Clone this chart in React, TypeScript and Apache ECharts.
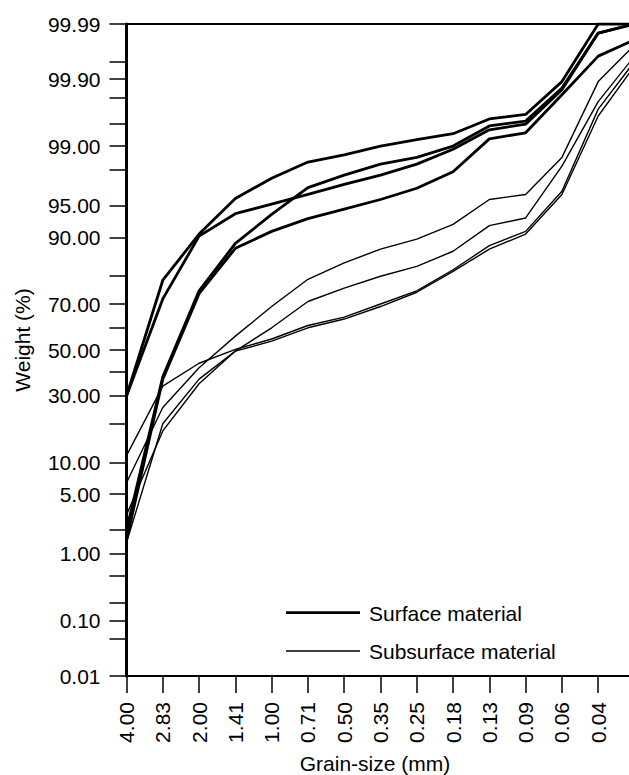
import React, { useEffect, useRef } from 'react';
import * as echarts from 'echarts';

// ---- data ----
const grainSizes = ['4.00', '2.83', '2.00', '1.41', '1.00', '0.71', '0.50', '0.35', '0.25', '0.18', '0.13', '0.09', '0.06', '0.04', ''];

// Surface material (cumulative weight %, thick lines)
const surfaceA = [30, 78.7, 90.7, 95.8, 97.5, 98.4, 98.7, 99.0, 99.18, 99.32, 99.58, 99.64, 99.89, 99.99, 99.99];
const surfaceB = [30, 72, 90.3, 94.0, 95.2, 96.2, 97.06, 97.7, 98.3, 98.9, 99.4, 99.5, 99.85, 99.985, 99.99];
const surfaceC = [2.0, 38, 75, 88.8, 93.9, 96.8, 97.7, 98.3, 98.6, 99.0, 99.47, 99.55, 99.86, 99.985, 99.99];
const surfaceD = [1.5, 37, 74, 87.7, 91.2, 93.3, 94.6, 95.7, 96.75, 97.9, 99.2, 99.34, 99.82, 99.96, 99.98];

// Subsurface material (thin lines)
const subsurfaceA = [11.4, 34, 44, 50.3, 55, 61, 64.6, 70, 75, 82, 88.3, 91.2, 96.5, 99.7, 99.95];
const subsurfaceB = [6.5, 25.6, 42, 56.3, 69, 79, 84, 87.5, 89.7, 92.4, 95.7, 96.2, 98.6, 99.89, 99.975];
const subsurfaceC = [3.0, 17.8, 35, 49.5, 60, 71, 76, 80, 83, 87, 92.2, 93.4, 98.2, 99.77, 99.96];
const subsurfaceD = [1.4, 20, 37, 49.5, 54, 60, 63.8, 69, 74.5, 81.5, 87.5, 90.7, 96.2, 99.62, 99.94];

// probability-scale ticks and labels (%)
const tickPercents = [0.01, 0.05, 0.1, 0.2, 0.5, 1, 2, 5, 10, 20, 30, 40, 50, 60, 70, 80, 90, 95, 98, 99, 99.5, 99.8, 99.9, 99.95, 99.99];
const labelPercents = [0.01, 0.1, 1, 5, 10, 30, 50, 70, 90, 95, 99, 99.9, 99.99];

// inverse normal CDF (Acklam)
function probit(pct: number): number {
  const p = pct / 100;
  const a = [-3.969683028665376e1, 2.209460984245205e2, -2.759285104469687e2, 1.38357751867269e2, -3.066479806614716e1, 2.506628277459239];
  const b = [-5.447609879822406e1, 1.615858368580409e2, -1.556989798598866e2, 6.680131188771972e1, -1.328068155288572e1];
  const c = [-7.784894002430293e-3, -3.223964580411365e-1, -2.400758277161838, -2.549671010240001, 4.374664141464968, 2.938163982698783];
  const d = [7.784695709041462e-3, 3.224671290700398e-1, 2.445134137142996, 3.754408661907416];
  const plow = 0.02425;
  const phigh = 1 - plow;
  if (p < plow) {
    const q = Math.sqrt(-2 * Math.log(p));
    return (((((c[0] * q + c[1]) * q + c[2]) * q + c[3]) * q + c[4]) * q + c[5]) /
      ((((d[0] * q + d[1]) * q + d[2]) * q + d[3]) * q + 1);
  }
  if (p <= phigh) {
    const q = p - 0.5;
    const r = q * q;
    return ((((((a[0] * r + a[1]) * r + a[2]) * r + a[3]) * r + a[4]) * r + a[5]) * q) /
      (((((b[0] * r + b[1]) * r + b[2]) * r + b[3]) * r + b[4]) * r + 1);
  }
  const q = Math.sqrt(-2 * Math.log(1 - p));
  return -(((((c[0] * q + c[1]) * q + c[2]) * q + c[3]) * q + c[4]) * q + c[5]) /
    ((((d[0] * q + d[1]) * q + d[2]) * q + d[3]) * q + 1);
}

const FONT = '"Liberation Sans", Arial, Helvetica, sans-serif';

export default function App() {
  const ref = useRef<HTMLDivElement>(null);

  useEffect(() => {
    if (!ref.current) return;
    const chart = echarts.init(ref.current, null, { renderer: 'svg' });

    const yMin = probit(0.01);
    const yMax = probit(99.99);
    const tickZ = tickPercents.map(probit);
    const labelZ = labelPercents.map(probit);

    const mk = (name: string, vals: number[], width: number) => ({
      name,
      type: 'line',
      data: vals.map(probit),
      symbol: 'none',
      smooth: false,
      silent: true,
      lineStyle: { color: '#000', width, join: 'round' },
      z: width > 2 ? 3 : 2,
    });

    const option: any = {
      animation: false,
      grid: {
        left: 126.5,
        top: 24,
        width: 508,
        height: 652,
        show: true,
        borderColor: '#000',
        borderWidth: 2,
        backgroundColor: 'transparent',
        containLabel: false,
        outerBoundsMode: 'none',
      },
      xAxis: {
        type: 'category',
        data: grainSizes,
        boundaryGap: false,
        axisLine: { show: true, onZero: false, lineStyle: { color: '#000', width: 2 } },
        axisTick: { show: true, interval: 0, length: 17, lineStyle: { color: '#000', width: 1.5 } },
        axisLabel: {
          interval: 0,
          rotate: 90,
          margin: 26,
          color: '#000',
          fontSize: 21,
          fontFamily: FONT,
        },
        splitLine: { show: false },
      },
      yAxis: {
        type: 'value',
        min: yMin,
        max: yMax,
        axisLine: { show: true, onZero: false, lineStyle: { color: '#000', width: 3 } },
        axisTick: {
          show: true,
          length: 17,
          customValues: tickZ,
          lineStyle: { color: '#000', width: 1.5 },
        },
        axisLabel: {
          customValues: labelZ,
          margin: 26,
          color: '#000',
          fontSize: 21,
          fontFamily: FONT,
          formatter: (v: number) => {
            let best = 0;
            let bd = Infinity;
            labelZ.forEach((z, i) => {
              const dd = Math.abs(z - v);
              if (dd < bd) { bd = dd; best = i; }
            });
            return labelPercents[best].toFixed(2);
          },
        },
        splitLine: { show: false },
      },
      series: [
        mk('Subsurface material', subsurfaceA, 1.4),
        mk('Subsurface material', subsurfaceB, 1.4),
        mk('Subsurface material', subsurfaceC, 1.4),
        mk('Subsurface material', subsurfaceD, 1.4),
        mk('Surface material', surfaceA, 2.8),
        mk('Surface material', surfaceB, 2.8),
        mk('Surface material', surfaceC, 2.8),
        mk('Surface material', surfaceD, 2.8),
      ],
      graphic: [
        {
          type: 'text',
          x: 22,
          y: 340,
          rotation: Math.PI / 2,
          style: { text: 'Weight (%)', fill: '#000', fontSize: 21, fontFamily: FONT, align: 'center', verticalAlign: 'middle' },
        },
        {
          type: 'text',
          x: 375,
          y: 763,
          style: { text: 'Grain-size (mm)', fill: '#000', fontSize: 21, fontFamily: FONT, align: 'center', verticalAlign: 'middle' },
        },
        {
          type: 'line',
          shape: { x1: 286, y1: 612.7, x2: 360, y2: 612.7 },
          style: { stroke: '#000', lineWidth: 2.8 },
        },
        {
          type: 'text',
          x: 369,
          y: 613,
          style: { text: 'Surface material', fill: '#000', fontSize: 21, fontFamily: FONT, align: 'left', verticalAlign: 'middle' },
        },
        {
          type: 'line',
          shape: { x1: 286, y1: 651, x2: 360, y2: 651 },
          style: { stroke: '#000', lineWidth: 1.4 },
        },
        {
          type: 'text',
          x: 369,
          y: 651,
          style: { text: 'Subsurface material', fill: '#000', fontSize: 21, fontFamily: FONT, align: 'left', verticalAlign: 'middle' },
        },
      ],
    };

    chart.setOption(option);
    return () => chart.dispose();
  }, []);

  return (
    <div
      ref={ref}
      style={{ position: 'fixed', left: 0, top: 0, width: 629, height: 775, background: '#fff' }}
    />
  );
}
